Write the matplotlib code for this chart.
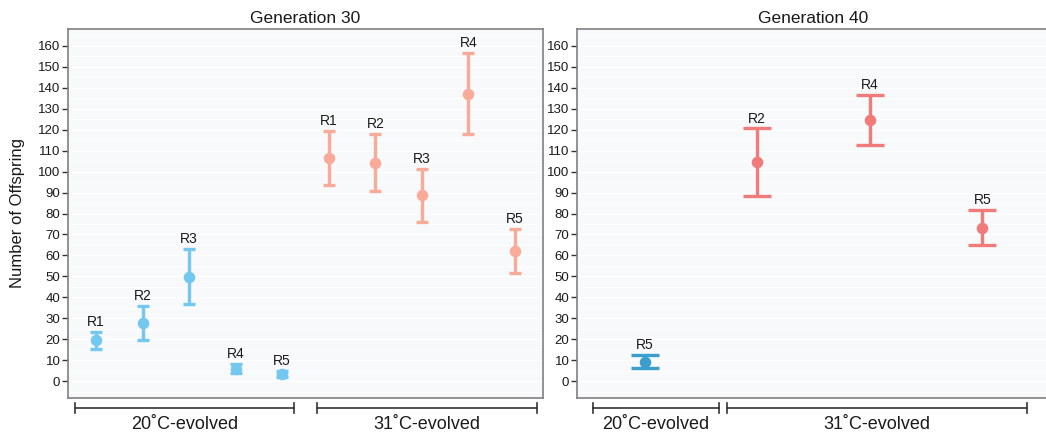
import matplotlib
matplotlib.use('Agg')
import matplotlib.pyplot as plt
from matplotlib.transforms import blended_transform_factory
from matplotlib.ticker import MultipleLocator

plt.rcParams['font.family'] = ['Liberation Sans', 'DejaVu Sans']

# ---- data ----
titles = ['Generation 30', 'Generation 40']
group_names = ['20˚C-evolved', '31˚C-evolved']

g30_group = [0, 0, 0, 0, 0, 1, 1, 1, 1, 1]
g30_labels = ['R1', 'R2', 'R3', 'R4', 'R5', 'R1', 'R2', 'R3', 'R4', 'R5']
g30_mean = [19.5, 27.8, 49.9, 6.0, 3.6, 106.5, 104.3, 88.6, 137.2, 62.0]
g30_err = [4.0, 8.1, 13.3, 2.3, 1.4, 12.9, 13.8, 12.6, 19.3, 10.5]

g40_group = [0, 1, 1, 1]
g40_labels = ['R5', 'R2', 'R4', 'R5']
g40_mean = [9.3, 104.4, 124.5, 73.3]
g40_err = [3.1, 16.2, 12.0, 8.5]

yticks = list(range(0, 161, 10))

g30_colors = ['#74C7EE', '#F8AB99']
g40_colors = ['#3A9FCD', '#F17A7A']

# bracket extents (x, data units) for each panel
g30_brackets = [(0.55, 5.25), (5.74, 10.47)]
g40_brackets = [(0.545, 1.66), (1.73, 4.40)]

W, H = 1046, 437
fig = plt.figure(figsize=(W / 100, H / 100), dpi=100)
axL = fig.add_axes([68 / W, (H - 398) / H, 475 / W, 369 / H])
axR = fig.add_axes([577 / W, (H - 398) / H, 473 / W, 369 / H])

def style(ax, xlim):
    ax.set_facecolor('#F8F9FB')
    ax.set_xlim(*xlim)
    ax.set_ylim(-8, 168)
    ax.set_yticks(yticks)
    ax.yaxis.set_minor_locator(MultipleLocator(5))
    ax.grid(True, which='major', axis='y', color='white', lw=0.8)
    ax.grid(True, which='minor', axis='y', color='white', lw=0.5)
    ax.set_axisbelow(True)
    ax.set_xticks([])
    ax.tick_params(axis='y', which='major', length=4, width=1, color='#333333',
                   labelsize=9.5, labelcolor='#1a1a1a', pad=1.5)
    ax.tick_params(axis='y', which='minor', length=0)
    for s in ax.spines.values():
        s.set_color('#808080')
        s.set_linewidth(1.2)

def panel(ax, groups, labels, means, errs, colors, capsize, brackets, title):
    xs = list(range(1, len(means) + 1))
    for x, g, lab, m, e in zip(xs, groups, labels, means, errs):
        c = colors[g]
        ax.errorbar([x], [m], yerr=[e], fmt='o', color=c, ecolor=c,
                    elinewidth=2.4, capthick=2.4, capsize=capsize,
                    markersize=7.3, zorder=3)
        ax.annotate(lab, (x, m + e), xytext=(0, 2), textcoords='offset points',
                    ha='center', va='bottom', fontsize=10, color='#1a1a1a')
    tr = blended_transform_factory(ax.transData, ax.transAxes)
    yb, d = -0.027, 0.013
    for (x0, x1), name in zip(brackets, group_names):
        ax.plot([x0, x1], [yb, yb], transform=tr, clip_on=False, color='#333333', lw=1.2)
        for xx in (x0, x1):
            ax.plot([xx, xx], [yb - d, yb + d], transform=tr, clip_on=False,
                    color='#333333', lw=1.2)
        ax.text((x0 + x1) / 2, -0.072, name, transform=tr, ha='center', va='center',
                fontsize=13, color='#1a1a1a')
    ax.set_title(title, fontsize=12.5, pad=4, color='#1a1a1a')

style(axL, (0.4, 10.6))
style(axR, (0.4, 4.6))
panel(axL, g30_group, g30_labels, g30_mean, g30_err, g30_colors, 4.2, g30_brackets, titles[0])
panel(axR, g40_group, g40_labels, g40_mean, g40_err, g40_colors, 10.2, g40_brackets, titles[1])

fig.text(18 / W, 1 - 213 / H, 'Number of Offspring', rotation=90, ha='center', va='center',
         fontsize=12, color='#1a1a1a')

fig.savefig('out.png', dpi=100)
